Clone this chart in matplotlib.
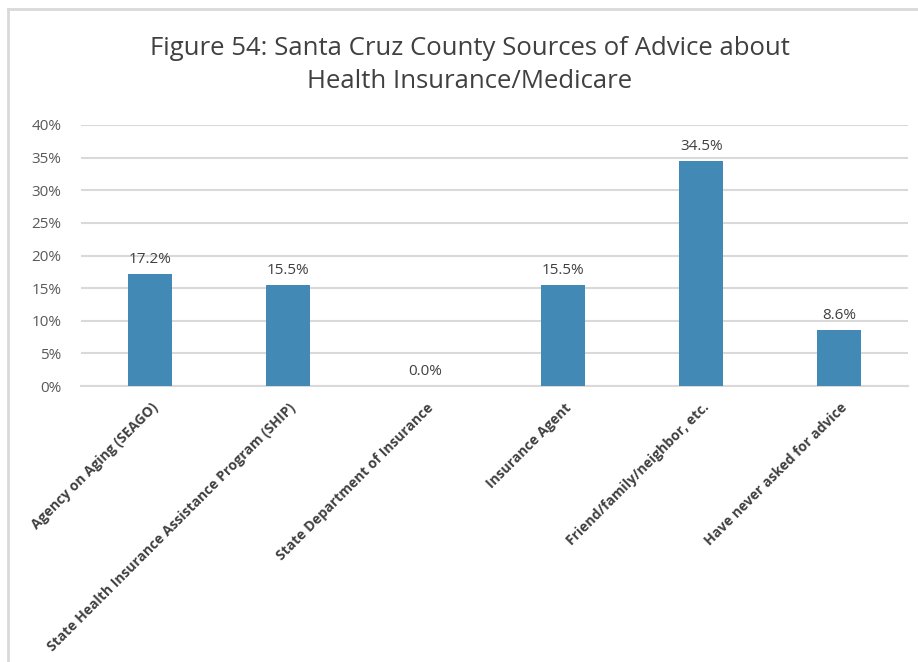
import matplotlib
matplotlib.use("Agg")
import matplotlib.pyplot as plt
from matplotlib.lines import Line2D

categories = [
    "Agency on Aging (SEAGO)",
    "State Health Insurance Assistance Program (SHIP)",
    "State Department of Insurance",
    "Insurance Agent",
    "Friend/family/neighbor, etc.",
    "Have never asked for advice",
]
values = [17.2, 15.5, 0.0, 15.5, 34.5, 8.6]
yticks = [0, 5, 10, 15, 20, 25, 30, 35, 40]
title = "Figure 54: Santa Cruz County Sources of Advice about\nHealth Insurance/Medicare"

W, H = 918, 662
fig = plt.figure(figsize=(W / 100, H / 100), dpi=100)
fig.patch.set_facecolor("white")

# chart frame (top and left edges visible)
fig.add_artist(Line2D([8 / W, 1.0], [1 - 9 / H, 1 - 9 / H], transform=fig.transFigure,
                      color="#d9d9d9", lw=2))
fig.add_artist(Line2D([8 / W, 8 / W], [0, 1 - 9 / H], transform=fig.transFigure,
                      color="#d9d9d9", lw=2))

ax = fig.add_axes([81 / W, 1 - 386 / H, (908 - 81) / W, (386 - 125) / H])
x = list(range(len(categories)))
ax.bar(x, values, width=0.32, color="#4389B5", zorder=3)
ax.set_xlim(-0.5, len(categories) - 0.5)
ax.set_ylim(0, 40)
ax.set_yticks(yticks)
ax.set_yticklabels([f"{t}%" for t in yticks], fontsize=11, color="#595959",
                   family="Open Sans")
ax.tick_params(axis="y", length=0, pad=14)
ax.tick_params(axis="x", length=0)
ax.grid(axis="y", color="#d9d9d9", lw=1.5, zorder=0)
for s in ["top", "right", "left"]:
    ax.spines[s].set_visible(False)
ax.spines["bottom"].set_color("#d9d9d9")
ax.spines["bottom"].set_linewidth(1.5)

ax.set_xticks(x)
ax.set_xticklabels([])
for xi, lab in zip(x, categories):
    ax.annotate(lab, xy=(xi, 0), xycoords="data", xytext=(4, -14),
                textcoords="offset points", rotation=45, rotation_mode="anchor",
                ha="right", va="center", fontsize=10, fontweight="bold",
                color="#404040", family="Open Sans")

for xi, v in zip(x, values):
    ax.annotate(f"{v:.1f}%", xy=(xi, v), xytext=(0, 5), textcoords="offset points",
                ha="center", va="bottom", fontsize=11, color="#404040",
                family="Open Sans")

fig.text(470 / W, 1 - 65 / H, title, ha="center", va="center", fontsize=18.5,
         color="#404040", family="Open Sans", linespacing=1.45)

fig.savefig("out.png", dpi=100, facecolor="white")
